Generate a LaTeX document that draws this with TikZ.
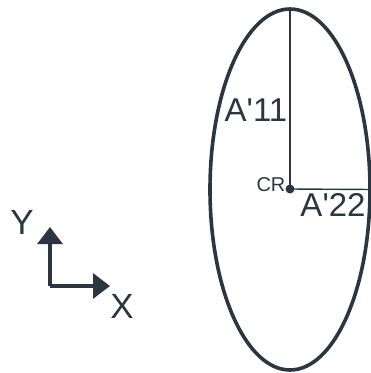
\documentclass[tikz,border=0pt]{standalone}
\usepackage{fontspec}
\setmainfont{Liberation Sans}
\usetikzlibrary{shapes.geometric,arrows.meta}
\definecolor{ink}{HTML}{2B3640}
\begin{document}
\begin{tikzpicture}[x=1pt,y=-1pt,
  lbl/.style={inner sep=0pt,text=ink},
  thinline/.style={draw=ink,line width=1.4pt},
  axis/.style={draw=ink,line width=3.2pt,-{Triangle[length=17pt,width=25pt]}}]
\useasboundingbox (0,0) rectangle (371,373);
\node[ellipse,draw=ink,line width=3.6pt,inner sep=0pt,minimum width=160pt,minimum height=361pt] (ell) at (290,189.5) {};
\coordinate (cr) at (290,189);
\draw[thinline] (cr) -- (ell.north);
\draw[thinline] (cr) -- (ell.east);
\fill[ink] (cr) circle (4.5pt);
\node[lbl,font=\fontsize{20}{20}\selectfont] (crl) at (271,185) {CR};
\node[lbl,font=\fontsize{33}{33}\selectfont] (a11) at (256,110) {A\textquotesingle 11};
\node[lbl,font=\fontsize{33}{33}\selectfont] (a22) at (333,205) {A\textquotesingle 22};
\coordinate (o) at (50,286);
\coordinate (yt) at (50,227);
\coordinate (xt) at (110,286);
\draw[axis] (o) -- (yt);
\draw[axis] (o) -- (xt);
\node[lbl,font=\fontsize{35}{35}\selectfont] (yl) at (22,222) {Y};
\node[lbl,font=\fontsize{35}{35}\selectfont] (xl) at (122,306) {X};
\end{tikzpicture}
\end{document}
